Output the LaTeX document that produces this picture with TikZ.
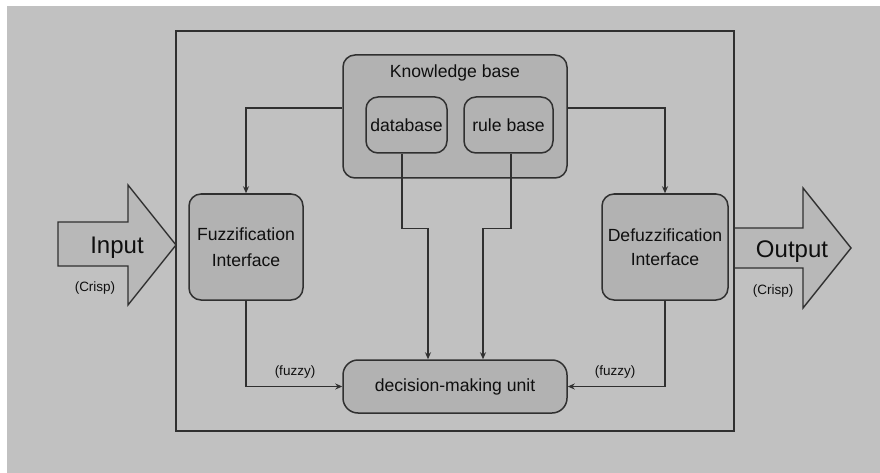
\documentclass[tikz,border=0pt]{standalone}
\usepackage{fontspec}
\setmainfont{Liberation Sans}
\usetikzlibrary{arrows.meta}
\definecolor{pagebg}{RGB}{193,193,193}
\definecolor{boxfill}{RGB}{178,178,178}
\definecolor{arrowfill}{RGB}{184,184,184}
\definecolor{linecol}{RGB}{48,48,48}
\definecolor{textcol}{RGB}{15,15,15}
\tikzset{
  box/.style={draw=linecol, line width=1.5pt, fill=boxfill, rounded corners=12pt,
    text=textcol, font=\fontsize{17.6}{26}\selectfont, align=center, inner sep=0pt},
  flow/.style={draw=linecol, line width=1.4pt, -{Stealth[length=7pt,width=6pt]}},
  bigarrow/.style={draw=linecol, line width=1.4pt, fill=arrowfill, line join=miter},
  biglabel/.style={text=textcol, font=\fontsize{24}{28}\selectfont, inner sep=0pt, anchor=base},
  smalllabel/.style={text=textcol, font=\fontsize{13.5}{16}\selectfont, inner sep=0pt}
}
\begin{document}
\begin{tikzpicture}[x=1pt, y=-1pt]
  % page and background
  \useasboundingbox (0,0) rectangle (880,473);
  \fill[white] (0,0) rectangle (880,473);
  \fill[pagebg] (7,6) rectangle (880,473);

  % block arrows for the crisp input and output
  \draw[bigarrow] (58,222) -- (128,222) -- (128,185) -- (176,245) -- (128,305)
    -- (128,266) -- (58,266) -- cycle;
  \draw[bigarrow] (734,228) -- (803,228) -- (803,188) -- (851,248) -- (803,308)
    -- (803,268) -- (734,268) -- cycle;
  \node[biglabel] (inlbl) at (117,253) {Input};
  \node[biglabel] (outlbl) at (792,257) {Output};
  \node[smalllabel] (crispin) at (95,288) {(Crisp)};
  \node[smalllabel] (crispout) at (773,291) {(Crisp)};

  % system boundary
  \draw[draw=linecol, line width=1.8pt] (176,31) rectangle (734,431);

  % knowledge base with its two parts
  \node[box, minimum width=224pt, minimum height=123pt] (kb) at (455,116.5) {};
  \node[text=textcol, font=\fontsize{17.6}{20}\selectfont, inner sep=0pt] (kbtitle) at (455,73) {Knowledge base};
  \node[box, minimum width=81pt, minimum height=56pt] (db) at (406.5,125) {database};
  \node[box, minimum width=89pt, minimum height=56pt] (rb) at (508.5,125) {rule base};

  % interfaces and inference unit
  \node[box, minimum width=114pt, minimum height=106pt] (fz) at (246,247) {Fuzzification\\Interface};
  \node[box, minimum width=126pt, minimum height=106pt, font=\fontsize{17.6}{24.5}\selectfont] (dfz) at (665,247) {Defuzzification\\Interface};
  \node[box, minimum width=224pt, minimum height=53pt, rounded corners=15pt] (dmu) at (455,386.5) {decision-making unit};

  % connectors
  \draw[flow] ([yshift=8.5pt]kb.west) -| (fz.north);
  \draw[flow] ([yshift=8.5pt]kb.east) -| (dfz.north);
  \draw[flow] ([xshift=-4.5pt]db.south) -- ++(0,75) -| ([xshift=-27pt]dmu.north);
  \draw[flow] ([xshift=2.5pt]rb.south) -- ++(0,75) -| ([xshift=28pt]dmu.north);
  \draw[flow] (fz.south) |- (dmu.west);
  \draw[flow] (dfz.south) |- (dmu.east);
  \node[smalllabel] (fuzzyl) at (295,372) {(fuzzy)};
  \node[smalllabel] (fuzzyr) at (615,372) {(fuzzy)};
\end{tikzpicture}
\end{document}
